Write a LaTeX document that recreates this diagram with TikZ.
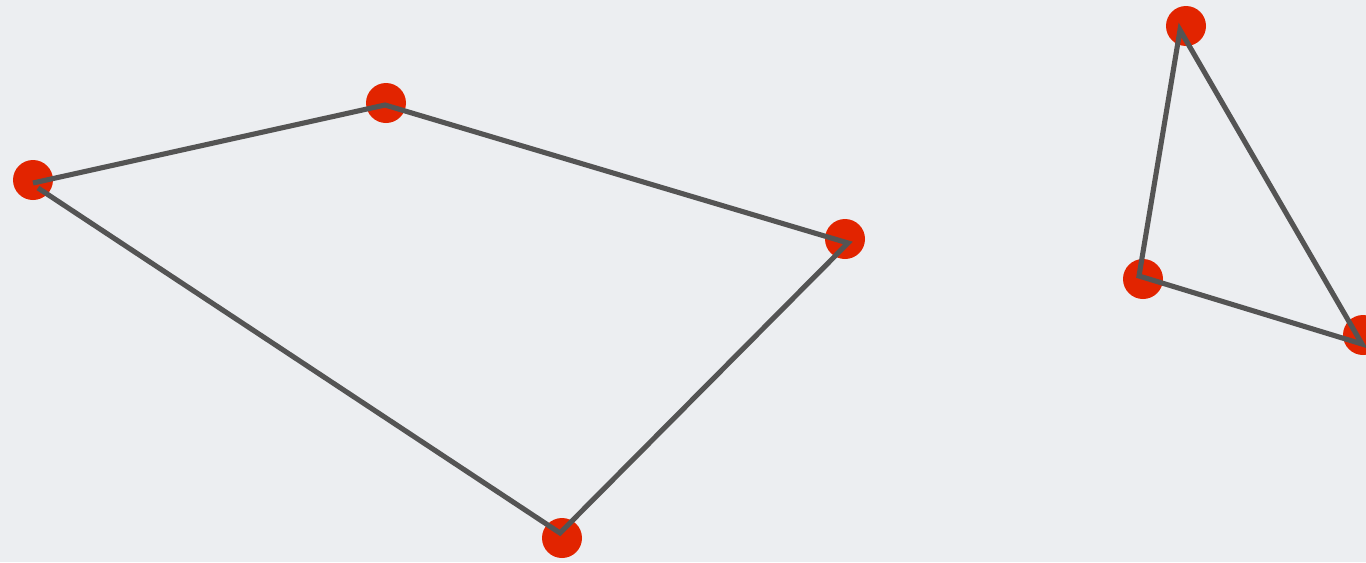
\documentclass[tikz,border=0pt]{standalone}
\usepackage{tikz}
\usetikzlibrary{calc}

\definecolor{bggray}{HTML}{ECEEF1}
\definecolor{dotred}{HTML}{E22400}
\definecolor{edgegray}{HTML}{545454}

\tikzset{
  dot/.style={circle, fill=dotred, draw=none, minimum size=0.8cm, inner sep=0pt},
  edge/.style={edgegray, line width=2.9pt, miter limit=10}
}

\begin{document}
\begin{tikzpicture}[x=0.02cm, y=-0.02cm]
  % Canvas
  \fill[bggray] (0,0) rectangle (1366,562);
  \clip (0,0) rectangle (1366,562);
  \useasboundingbox (0,0) rectangle (1366,562);

  % Quadrilateral dots
  \node[dot] (qa) at (33,180)  {};
  \node[dot] (qb) at (386,103) {};
  \node[dot] (qc) at (845,239) {};
  \node[dot] (qd) at (562,538) {};

  % Triangle dots
  \node[dot] (ta) at (1186,26)  {};
  \node[dot] (tb) at (1143,279) {};
  \node[dot] (tc) at (1363,335) {};

  % Line corners sit a little off the dot centres
  \coordinate (qa1) at (33,183);
  \coordinate (qa2) at (38,188);
  \coordinate (qb1) at (385,105);
  \coordinate (qc1) at (848,243);
  \coordinate (qd1) at (560,533);
  \coordinate (ta1) at (1180,30);
  \coordinate (tb1) at (1139,276);
  \coordinate (tc1) at (1362,344);

  % Edges
  \draw[edge] (qa1) -- (qb1) -- (qc1) -- (qd1) -- (qa2);
  \draw[edge] (ta1) -- (tb1) -- (tc1) -- cycle;
\end{tikzpicture}
\end{document}
